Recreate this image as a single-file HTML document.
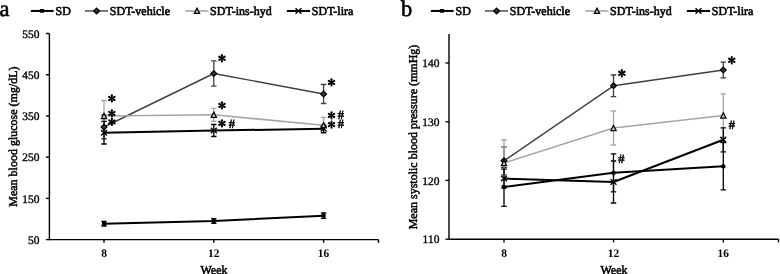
<!DOCTYPE html><html><head><meta charset="utf-8"><style>html,body{margin:0;padding:0;background:#fff;width:780px;height:274px;overflow:hidden}svg{display:block;will-change:transform}</style></head><body>
<svg width="780" height="274" viewBox="0 0 780 274" font-family='"Liberation Serif", serif' fill="#000">
<text transform="translate(-0.5 16.0) skewX(0.4)" font-size="22.5" stroke="#000" stroke-width="0.6">a</text>
<text transform="translate(400.9 16.0) skewX(0.4)" font-size="22.5" stroke="#000" stroke-width="0.6">b</text>
<path d="M30.90 10.95H53.60" stroke="#000" stroke-width="2.0"/>
<rect x="39.90" y="9.05" width="4.20" height="3.80" rx="0.4" fill="#000"/>
<text transform="translate(55.60 14.6) skewX(0.4)" font-size="12" stroke="#000" stroke-width="0.6">SD</text>
<path d="M84.90 10.95H108.00" stroke="#404040" stroke-width="1.4"/>
<path d="M96.60 8.10L99.45 10.95L96.60 13.80L93.75 10.95Z" fill="#3a3a3a" stroke="#000" stroke-width="1.3"/>
<text transform="translate(109.80 14.6) skewX(0.4)" font-size="12" stroke="#000" stroke-width="0.6">SDT-vehicle</text>
<path d="M185.30 10.95H208.30" stroke="#a6a6a6" stroke-width="1.6"/>
<path d="M197.00 8.25L199.60 13.45L194.40 13.45Z" fill="#ccc" stroke="#000" stroke-width="1.25" stroke-linejoin="miter"/>
<text transform="translate(210.10 14.6) skewX(0.4)" font-size="12" stroke="#000" stroke-width="0.6">SDT-ins-hyd</text>
<path d="M286.90 10.95H310.00" stroke="#000" stroke-width="2.0"/>
<path d="M295.50 8.25L301.50 13.65M301.50 8.25L295.50 13.65" stroke="#000" stroke-width="1.4"/>
<text transform="translate(311.80 14.6) skewX(0.4)" font-size="12" stroke="#000" stroke-width="0.6">SDT-lira</text>
<path d="M430.90 10.95H453.60" stroke="#000" stroke-width="2.0"/>
<rect x="439.90" y="9.05" width="4.20" height="3.80" rx="0.4" fill="#000"/>
<text transform="translate(455.60 14.6) skewX(0.4)" font-size="12" stroke="#000" stroke-width="0.6">SD</text>
<path d="M484.90 10.95H508.00" stroke="#404040" stroke-width="1.4"/>
<path d="M496.60 8.10L499.45 10.95L496.60 13.80L493.75 10.95Z" fill="#3a3a3a" stroke="#000" stroke-width="1.3"/>
<text transform="translate(509.80 14.6) skewX(0.4)" font-size="12" stroke="#000" stroke-width="0.6">SDT-vehicle</text>
<path d="M585.30 10.95H608.30" stroke="#a6a6a6" stroke-width="1.6"/>
<path d="M597.00 8.25L599.60 13.45L594.40 13.45Z" fill="#ccc" stroke="#000" stroke-width="1.25" stroke-linejoin="miter"/>
<text transform="translate(610.10 14.6) skewX(0.4)" font-size="12" stroke="#000" stroke-width="0.6">SDT-ins-hyd</text>
<path d="M686.90 10.95H710.00" stroke="#000" stroke-width="2.0"/>
<path d="M695.50 8.25L701.50 13.65M701.50 8.25L695.50 13.65" stroke="#000" stroke-width="1.4"/>
<text transform="translate(711.80 14.6) skewX(0.4)" font-size="12" stroke="#000" stroke-width="0.6">SDT-lira</text>
<path d="M49.4 33.5V239.6H378.6" stroke="#000" stroke-width="1.4" fill="none"/>
<path d="M45.9 33.50H49.4" stroke="#000" stroke-width="1.4"/>
<text transform="translate(39.4 37.70) skewX(0.4)" font-size="11.5" text-anchor="end" stroke="#000" stroke-width="0.35">550</text>
<path d="M45.9 74.72H49.4" stroke="#000" stroke-width="1.4"/>
<text transform="translate(39.4 78.92) skewX(0.4)" font-size="11.5" text-anchor="end" stroke="#000" stroke-width="0.35">450</text>
<path d="M45.9 115.94H49.4" stroke="#000" stroke-width="1.4"/>
<text transform="translate(39.4 120.14) skewX(0.4)" font-size="11.5" text-anchor="end" stroke="#000" stroke-width="0.35">350</text>
<path d="M45.9 157.16H49.4" stroke="#000" stroke-width="1.4"/>
<text transform="translate(39.4 161.36) skewX(0.4)" font-size="11.5" text-anchor="end" stroke="#000" stroke-width="0.35">250</text>
<path d="M45.9 198.38H49.4" stroke="#000" stroke-width="1.4"/>
<text transform="translate(39.4 202.58) skewX(0.4)" font-size="11.5" text-anchor="end" stroke="#000" stroke-width="0.35">150</text>
<path d="M45.9 239.60H49.4" stroke="#000" stroke-width="1.4"/>
<text transform="translate(39.4 243.80) skewX(0.4)" font-size="11.5" text-anchor="end" stroke="#000" stroke-width="0.35">50</text>
<path d="M104.00 239.6V242.79999999999998" stroke="#000" stroke-width="1.4"/>
<path d="M213.80 239.6V242.79999999999998" stroke="#000" stroke-width="1.4"/>
<path d="M323.60 239.6V242.79999999999998" stroke="#000" stroke-width="1.4"/>
<path d="M378.50 239.6V242.79999999999998" stroke="#000" stroke-width="1.4"/>
<text transform="translate(104.00 256.6) skewX(0.4)" font-size="11.5" font-weight="bold" text-anchor="middle">8</text>
<text transform="translate(213.80 256.6) skewX(0.4)" font-size="11.5" font-weight="bold" text-anchor="middle">12</text>
<text transform="translate(323.60 256.6) skewX(0.4)" font-size="11.5" font-weight="bold" text-anchor="middle">16</text>
<text transform="translate(214.0 273.6) scale(1 1.03) skewX(0.4)" font-size="12" text-anchor="middle" stroke="#000" stroke-width="0.5">Week</text>
<text transform="translate(16.6 136.6) rotate(-90) skewX(0.4)" font-size="12" text-anchor="middle" stroke="#000" stroke-width="0.5">Mean blood glucose (mg/dL)</text>
<path d="M449.0 34V239.2H778.6" stroke="#000" stroke-width="1.4" fill="none"/>
<path d="M445.5 63.00H449.0" stroke="#000" stroke-width="1.4"/>
<text transform="translate(439.4 67.20) skewX(0.4)" font-size="11.5" text-anchor="end" stroke="#000" stroke-width="0.35">140</text>
<path d="M445.5 121.80H449.0" stroke="#000" stroke-width="1.4"/>
<text transform="translate(439.4 126.00) skewX(0.4)" font-size="11.5" text-anchor="end" stroke="#000" stroke-width="0.35">130</text>
<path d="M445.5 180.40H449.0" stroke="#000" stroke-width="1.4"/>
<text transform="translate(439.4 184.60) skewX(0.4)" font-size="11.5" text-anchor="end" stroke="#000" stroke-width="0.35">120</text>
<path d="M445.5 239.20H449.0" stroke="#000" stroke-width="1.4"/>
<text transform="translate(439.4 243.40) skewX(0.4)" font-size="11.5" text-anchor="end" stroke="#000" stroke-width="0.35">110</text>
<path d="M504.00 239.2V242.39999999999998" stroke="#000" stroke-width="1.4"/>
<path d="M613.50 239.2V242.39999999999998" stroke="#000" stroke-width="1.4"/>
<path d="M723.30 239.2V242.39999999999998" stroke="#000" stroke-width="1.4"/>
<path d="M778.50 239.2V242.39999999999998" stroke="#000" stroke-width="1.4"/>
<text transform="translate(504.00 256.6) skewX(0.4)" font-size="11.5" font-weight="bold" text-anchor="middle">8</text>
<text transform="translate(613.50 256.6) skewX(0.4)" font-size="11.5" font-weight="bold" text-anchor="middle">12</text>
<text transform="translate(723.30 256.6) skewX(0.4)" font-size="11.5" font-weight="bold" text-anchor="middle">16</text>
<text transform="translate(614.0 273.6) scale(1 1.03) skewX(0.4)" font-size="12" text-anchor="middle" stroke="#000" stroke-width="0.5">Week</text>
<text transform="translate(416.6 137.0) rotate(-90) skewX(0.4)" font-size="12" text-anchor="middle" stroke="#000" stroke-width="0.5">Mean systolic blood pressure (mmHg)</text>
<path d="M104.00 221.40V226.00M101.30 221.40H106.70M101.30 226.00H106.70" stroke="#000" stroke-width="1.3" fill="none"/>
<path d="M213.80 218.70V223.30M211.10 218.70H216.50M211.10 223.30H216.50" stroke="#000" stroke-width="1.3" fill="none"/>
<path d="M323.60 213.00V218.40M320.90 213.00H326.30M320.90 218.40H326.30" stroke="#000" stroke-width="1.3" fill="none"/>
<path d="M104.00 115.00V139.00M101.30 115.00H106.70M101.30 139.00H106.70" stroke="#404040" stroke-width="1.3" fill="none"/>
<path d="M213.80 60.80V86.20M211.10 60.80H216.50M211.10 86.20H216.50" stroke="#404040" stroke-width="1.3" fill="none"/>
<path d="M323.60 84.50V103.50M320.90 84.50H326.30M320.90 103.50H326.30" stroke="#404040" stroke-width="1.3" fill="none"/>
<path d="M104.00 100.50V131.50M101.30 100.50H106.70M101.30 131.50H106.70" stroke="#a6a6a6" stroke-width="1.3" fill="none"/>
<path d="M213.80 108.30V121.30M211.10 108.30H216.50M211.10 121.30H216.50" stroke="#a6a6a6" stroke-width="1.3" fill="none"/>
<path d="M323.60 117.30V133.30M320.90 117.30H326.30M320.90 133.30H326.30" stroke="#a6a6a6" stroke-width="1.3" fill="none"/>
<path d="M104.00 121.40V144.00M101.30 121.40H106.70M101.30 144.00H106.70" stroke="#000" stroke-width="1.3" fill="none"/>
<path d="M213.80 124.50V136.50M211.10 124.50H216.50M211.10 136.50H216.50" stroke="#000" stroke-width="1.3" fill="none"/>
<path d="M323.60 125.00V132.60M320.90 125.00H326.30M320.90 132.60H326.30" stroke="#000" stroke-width="1.3" fill="none"/>
<path d="M504.00 167.70V206.30M501.30 167.70H506.70M501.30 206.30H506.70" stroke="#000" stroke-width="1.3" fill="none"/>
<path d="M613.50 153.80V191.80M610.80 153.80H616.20M610.80 191.80H616.20" stroke="#000" stroke-width="1.3" fill="none"/>
<path d="M723.30 142.70V189.90M720.60 142.70H726.00M720.60 189.90H726.00" stroke="#000" stroke-width="1.3" fill="none"/>
<path d="M504.00 146.80V174.80M501.30 146.80H506.70M501.30 174.80H506.70" stroke="#404040" stroke-width="1.3" fill="none"/>
<path d="M613.50 75.00V96.60M610.80 75.00H616.20M610.80 96.60H616.20" stroke="#404040" stroke-width="1.3" fill="none"/>
<path d="M723.30 62.10V77.90M720.60 62.10H726.00M720.60 77.90H726.00" stroke="#404040" stroke-width="1.3" fill="none"/>
<path d="M504.00 140.00V186.00M501.30 140.00H506.70M501.30 186.00H506.70" stroke="#a6a6a6" stroke-width="1.3" fill="none"/>
<path d="M613.50 111.00V145.00M610.80 111.00H616.20M610.80 145.00H616.20" stroke="#a6a6a6" stroke-width="1.3" fill="none"/>
<path d="M723.30 93.80V137.20M720.60 93.80H726.00M720.60 137.20H726.00" stroke="#a6a6a6" stroke-width="1.3" fill="none"/>
<path d="M504.00 169.20V187.80M501.30 169.20H506.70M501.30 187.80H506.70" stroke="#000" stroke-width="1.3" fill="none"/>
<path d="M613.50 161.00V203.00M610.80 161.00H616.20M610.80 203.00H616.20" stroke="#000" stroke-width="1.3" fill="none"/>
<path d="M723.30 127.80V151.80M720.60 127.80H726.00M720.60 151.80H726.00" stroke="#000" stroke-width="1.3" fill="none"/>
<polyline points="104.00,223.70 213.80,221.00 323.60,215.70" fill="none" stroke="#000" stroke-width="2.0" stroke-linejoin="round"/>
<polyline points="104.00,127.00 213.80,73.50 323.60,94.00" fill="none" stroke="#404040" stroke-width="1.4" stroke-linejoin="round"/>
<polyline points="104.00,116.00 213.80,114.80 323.60,125.30" fill="none" stroke="#a6a6a6" stroke-width="1.6" stroke-linejoin="round"/>
<polyline points="104.00,132.70 213.80,130.50 323.60,128.80" fill="none" stroke="#000" stroke-width="2.0" stroke-linejoin="round"/>
<polyline points="504.00,187.00 613.50,172.80 723.30,166.30" fill="none" stroke="#000" stroke-width="2.0" stroke-linejoin="round"/>
<polyline points="504.00,160.80 613.50,85.80 723.30,70.00" fill="none" stroke="#404040" stroke-width="1.4" stroke-linejoin="round"/>
<polyline points="504.00,163.00 613.50,128.00 723.30,115.50" fill="none" stroke="#a6a6a6" stroke-width="1.6" stroke-linejoin="round"/>
<polyline points="504.00,178.50 613.50,182.00 723.30,139.80" fill="none" stroke="#000" stroke-width="2.0" stroke-linejoin="round"/>
<rect x="101.90" y="221.80" width="4.20" height="3.80" rx="1.2" fill="#000"/>
<rect x="211.70" y="219.10" width="4.20" height="3.80" rx="1.2" fill="#000"/>
<rect x="321.50" y="213.80" width="4.20" height="3.80" rx="1.2" fill="#000"/>
<path d="M104.00 124.15L106.85 127.00L104.00 129.85L101.15 127.00Z" fill="#3a3a3a" stroke="#000" stroke-width="1.3"/>
<path d="M213.80 70.65L216.65 73.50L213.80 76.35L210.95 73.50Z" fill="#3a3a3a" stroke="#000" stroke-width="1.3"/>
<path d="M323.60 91.15L326.45 94.00L323.60 96.85L320.75 94.00Z" fill="#3a3a3a" stroke="#000" stroke-width="1.3"/>
<path d="M104.00 113.30L106.60 118.50L101.40 118.50Z" fill="#ccc" stroke="#000" stroke-width="1.25" stroke-linejoin="miter"/>
<path d="M213.80 112.10L216.40 117.30L211.20 117.30Z" fill="#ccc" stroke="#000" stroke-width="1.25" stroke-linejoin="miter"/>
<path d="M323.60 122.60L326.20 127.80L321.00 127.80Z" fill="#ccc" stroke="#000" stroke-width="1.25" stroke-linejoin="miter"/>
<path d="M101.00 130.00L107.00 135.40M107.00 130.00L101.00 135.40" stroke="#000" stroke-width="1.4"/>
<path d="M210.80 127.80L216.80 133.20M216.80 127.80L210.80 133.20" stroke="#000" stroke-width="1.4"/>
<path d="M320.60 126.10L326.60 131.50M326.60 126.10L320.60 131.50" stroke="#000" stroke-width="1.4"/>
<rect x="501.90" y="185.10" width="4.20" height="3.80" rx="1.2" fill="#000"/>
<rect x="611.40" y="170.90" width="4.20" height="3.80" rx="1.2" fill="#000"/>
<rect x="721.20" y="164.40" width="4.20" height="3.80" rx="1.2" fill="#000"/>
<path d="M504.00 157.95L506.85 160.80L504.00 163.65L501.15 160.80Z" fill="#3a3a3a" stroke="#000" stroke-width="1.3"/>
<path d="M613.50 82.95L616.35 85.80L613.50 88.65L610.65 85.80Z" fill="#3a3a3a" stroke="#000" stroke-width="1.3"/>
<path d="M723.30 67.15L726.15 70.00L723.30 72.85L720.45 70.00Z" fill="#3a3a3a" stroke="#000" stroke-width="1.3"/>
<path d="M504.00 160.30L506.60 165.50L501.40 165.50Z" fill="#ccc" stroke="#000" stroke-width="1.25" stroke-linejoin="miter"/>
<path d="M613.50 125.30L616.10 130.50L610.90 130.50Z" fill="#ccc" stroke="#000" stroke-width="1.25" stroke-linejoin="miter"/>
<path d="M723.30 112.80L725.90 118.00L720.70 118.00Z" fill="#ccc" stroke="#000" stroke-width="1.25" stroke-linejoin="miter"/>
<path d="M501.00 175.80L507.00 181.20M507.00 175.80L501.00 181.20" stroke="#000" stroke-width="1.4"/>
<path d="M610.50 179.30L616.50 184.70M616.50 179.30L610.50 184.70" stroke="#000" stroke-width="1.4"/>
<path d="M720.30 137.10L726.30 142.50M726.30 137.10L720.30 142.50" stroke="#000" stroke-width="1.4"/>
<g transform="translate(111.85 98.40)"><path d="M0 -0.55L3.10 -1.08A1.08 1.08 0 1 1 3.10 1.08L0 0.55Z" transform="rotate(-90)"/><path d="M0 -0.55L3.10 -1.08A1.08 1.08 0 1 1 3.10 1.08L0 0.55Z" transform="rotate(-30)"/><path d="M0 -0.55L3.10 -1.08A1.08 1.08 0 1 1 3.10 1.08L0 0.55Z" transform="rotate(30)"/><path d="M0 -0.55L3.10 -1.08A1.08 1.08 0 1 1 3.10 1.08L0 0.55Z" transform="rotate(90)"/><path d="M0 -0.55L3.10 -1.08A1.08 1.08 0 1 1 3.10 1.08L0 0.55Z" transform="rotate(150)"/><path d="M0 -0.55L3.10 -1.08A1.08 1.08 0 1 1 3.10 1.08L0 0.55Z" transform="rotate(210)"/><circle r="0.95"/></g>
<g transform="translate(111.85 113.40)"><path d="M0 -0.55L3.10 -1.08A1.08 1.08 0 1 1 3.10 1.08L0 0.55Z" transform="rotate(-90)"/><path d="M0 -0.55L3.10 -1.08A1.08 1.08 0 1 1 3.10 1.08L0 0.55Z" transform="rotate(-30)"/><path d="M0 -0.55L3.10 -1.08A1.08 1.08 0 1 1 3.10 1.08L0 0.55Z" transform="rotate(30)"/><path d="M0 -0.55L3.10 -1.08A1.08 1.08 0 1 1 3.10 1.08L0 0.55Z" transform="rotate(90)"/><path d="M0 -0.55L3.10 -1.08A1.08 1.08 0 1 1 3.10 1.08L0 0.55Z" transform="rotate(150)"/><path d="M0 -0.55L3.10 -1.08A1.08 1.08 0 1 1 3.10 1.08L0 0.55Z" transform="rotate(210)"/><circle r="0.95"/></g>
<g transform="translate(111.90 121.90)"><path d="M0 -0.55L3.10 -1.08A1.08 1.08 0 1 1 3.10 1.08L0 0.55Z" transform="rotate(-90)"/><path d="M0 -0.55L3.10 -1.08A1.08 1.08 0 1 1 3.10 1.08L0 0.55Z" transform="rotate(-30)"/><path d="M0 -0.55L3.10 -1.08A1.08 1.08 0 1 1 3.10 1.08L0 0.55Z" transform="rotate(30)"/><path d="M0 -0.55L3.10 -1.08A1.08 1.08 0 1 1 3.10 1.08L0 0.55Z" transform="rotate(90)"/><path d="M0 -0.55L3.10 -1.08A1.08 1.08 0 1 1 3.10 1.08L0 0.55Z" transform="rotate(150)"/><path d="M0 -0.55L3.10 -1.08A1.08 1.08 0 1 1 3.10 1.08L0 0.55Z" transform="rotate(210)"/><circle r="0.95"/></g>
<g transform="translate(221.95 58.30)"><path d="M0 -0.55L3.10 -1.08A1.08 1.08 0 1 1 3.10 1.08L0 0.55Z" transform="rotate(-90)"/><path d="M0 -0.55L3.10 -1.08A1.08 1.08 0 1 1 3.10 1.08L0 0.55Z" transform="rotate(-30)"/><path d="M0 -0.55L3.10 -1.08A1.08 1.08 0 1 1 3.10 1.08L0 0.55Z" transform="rotate(30)"/><path d="M0 -0.55L3.10 -1.08A1.08 1.08 0 1 1 3.10 1.08L0 0.55Z" transform="rotate(90)"/><path d="M0 -0.55L3.10 -1.08A1.08 1.08 0 1 1 3.10 1.08L0 0.55Z" transform="rotate(150)"/><path d="M0 -0.55L3.10 -1.08A1.08 1.08 0 1 1 3.10 1.08L0 0.55Z" transform="rotate(210)"/><circle r="0.95"/></g>
<g transform="translate(221.95 105.40)"><path d="M0 -0.55L3.10 -1.08A1.08 1.08 0 1 1 3.10 1.08L0 0.55Z" transform="rotate(-90)"/><path d="M0 -0.55L3.10 -1.08A1.08 1.08 0 1 1 3.10 1.08L0 0.55Z" transform="rotate(-30)"/><path d="M0 -0.55L3.10 -1.08A1.08 1.08 0 1 1 3.10 1.08L0 0.55Z" transform="rotate(30)"/><path d="M0 -0.55L3.10 -1.08A1.08 1.08 0 1 1 3.10 1.08L0 0.55Z" transform="rotate(90)"/><path d="M0 -0.55L3.10 -1.08A1.08 1.08 0 1 1 3.10 1.08L0 0.55Z" transform="rotate(150)"/><path d="M0 -0.55L3.10 -1.08A1.08 1.08 0 1 1 3.10 1.08L0 0.55Z" transform="rotate(210)"/><circle r="0.95"/></g>
<g transform="translate(221.95 123.40)"><path d="M0 -0.55L3.10 -1.08A1.08 1.08 0 1 1 3.10 1.08L0 0.55Z" transform="rotate(-90)"/><path d="M0 -0.55L3.10 -1.08A1.08 1.08 0 1 1 3.10 1.08L0 0.55Z" transform="rotate(-30)"/><path d="M0 -0.55L3.10 -1.08A1.08 1.08 0 1 1 3.10 1.08L0 0.55Z" transform="rotate(30)"/><path d="M0 -0.55L3.10 -1.08A1.08 1.08 0 1 1 3.10 1.08L0 0.55Z" transform="rotate(90)"/><path d="M0 -0.55L3.10 -1.08A1.08 1.08 0 1 1 3.10 1.08L0 0.55Z" transform="rotate(150)"/><path d="M0 -0.55L3.10 -1.08A1.08 1.08 0 1 1 3.10 1.08L0 0.55Z" transform="rotate(210)"/><circle r="0.95"/></g>
<text transform="translate(228.80 127.90) skewX(0.4)" font-size="12.5" stroke="#000" stroke-width="0.55">#</text>
<g transform="translate(331.50 82.40)"><path d="M0 -0.55L3.10 -1.08A1.08 1.08 0 1 1 3.10 1.08L0 0.55Z" transform="rotate(-90)"/><path d="M0 -0.55L3.10 -1.08A1.08 1.08 0 1 1 3.10 1.08L0 0.55Z" transform="rotate(-30)"/><path d="M0 -0.55L3.10 -1.08A1.08 1.08 0 1 1 3.10 1.08L0 0.55Z" transform="rotate(30)"/><path d="M0 -0.55L3.10 -1.08A1.08 1.08 0 1 1 3.10 1.08L0 0.55Z" transform="rotate(90)"/><path d="M0 -0.55L3.10 -1.08A1.08 1.08 0 1 1 3.10 1.08L0 0.55Z" transform="rotate(150)"/><path d="M0 -0.55L3.10 -1.08A1.08 1.08 0 1 1 3.10 1.08L0 0.55Z" transform="rotate(210)"/><circle r="0.95"/></g>
<g transform="translate(331.50 115.40)"><path d="M0 -0.55L3.10 -1.08A1.08 1.08 0 1 1 3.10 1.08L0 0.55Z" transform="rotate(-90)"/><path d="M0 -0.55L3.10 -1.08A1.08 1.08 0 1 1 3.10 1.08L0 0.55Z" transform="rotate(-30)"/><path d="M0 -0.55L3.10 -1.08A1.08 1.08 0 1 1 3.10 1.08L0 0.55Z" transform="rotate(30)"/><path d="M0 -0.55L3.10 -1.08A1.08 1.08 0 1 1 3.10 1.08L0 0.55Z" transform="rotate(90)"/><path d="M0 -0.55L3.10 -1.08A1.08 1.08 0 1 1 3.10 1.08L0 0.55Z" transform="rotate(150)"/><path d="M0 -0.55L3.10 -1.08A1.08 1.08 0 1 1 3.10 1.08L0 0.55Z" transform="rotate(210)"/><circle r="0.95"/></g>
<text transform="translate(337.80 119.10) skewX(0.4)" font-size="12.5" stroke="#000" stroke-width="0.55">#</text>
<g transform="translate(331.50 124.60)"><path d="M0 -0.55L3.10 -1.08A1.08 1.08 0 1 1 3.10 1.08L0 0.55Z" transform="rotate(-90)"/><path d="M0 -0.55L3.10 -1.08A1.08 1.08 0 1 1 3.10 1.08L0 0.55Z" transform="rotate(-30)"/><path d="M0 -0.55L3.10 -1.08A1.08 1.08 0 1 1 3.10 1.08L0 0.55Z" transform="rotate(30)"/><path d="M0 -0.55L3.10 -1.08A1.08 1.08 0 1 1 3.10 1.08L0 0.55Z" transform="rotate(90)"/><path d="M0 -0.55L3.10 -1.08A1.08 1.08 0 1 1 3.10 1.08L0 0.55Z" transform="rotate(150)"/><path d="M0 -0.55L3.10 -1.08A1.08 1.08 0 1 1 3.10 1.08L0 0.55Z" transform="rotate(210)"/><circle r="0.95"/></g>
<text transform="translate(337.80 128.20) skewX(0.4)" font-size="12.5" stroke="#000" stroke-width="0.55">#</text>
<g transform="translate(621.85 73.30)"><path d="M0 -0.55L3.10 -1.08A1.08 1.08 0 1 1 3.10 1.08L0 0.55Z" transform="rotate(-90)"/><path d="M0 -0.55L3.10 -1.08A1.08 1.08 0 1 1 3.10 1.08L0 0.55Z" transform="rotate(-30)"/><path d="M0 -0.55L3.10 -1.08A1.08 1.08 0 1 1 3.10 1.08L0 0.55Z" transform="rotate(30)"/><path d="M0 -0.55L3.10 -1.08A1.08 1.08 0 1 1 3.10 1.08L0 0.55Z" transform="rotate(90)"/><path d="M0 -0.55L3.10 -1.08A1.08 1.08 0 1 1 3.10 1.08L0 0.55Z" transform="rotate(150)"/><path d="M0 -0.55L3.10 -1.08A1.08 1.08 0 1 1 3.10 1.08L0 0.55Z" transform="rotate(210)"/><circle r="0.95"/></g>
<text transform="translate(618.30 162.70) skewX(0.4)" font-size="12.5" stroke="#000" stroke-width="0.55">#</text>
<g transform="translate(731.75 60.30)"><path d="M0 -0.55L3.10 -1.08A1.08 1.08 0 1 1 3.10 1.08L0 0.55Z" transform="rotate(-90)"/><path d="M0 -0.55L3.10 -1.08A1.08 1.08 0 1 1 3.10 1.08L0 0.55Z" transform="rotate(-30)"/><path d="M0 -0.55L3.10 -1.08A1.08 1.08 0 1 1 3.10 1.08L0 0.55Z" transform="rotate(30)"/><path d="M0 -0.55L3.10 -1.08A1.08 1.08 0 1 1 3.10 1.08L0 0.55Z" transform="rotate(90)"/><path d="M0 -0.55L3.10 -1.08A1.08 1.08 0 1 1 3.10 1.08L0 0.55Z" transform="rotate(150)"/><path d="M0 -0.55L3.10 -1.08A1.08 1.08 0 1 1 3.10 1.08L0 0.55Z" transform="rotate(210)"/><circle r="0.95"/></g>
<text transform="translate(728.80 129.40) skewX(0.4)" font-size="12.5" stroke="#000" stroke-width="0.55">#</text>
</svg></body></html>
